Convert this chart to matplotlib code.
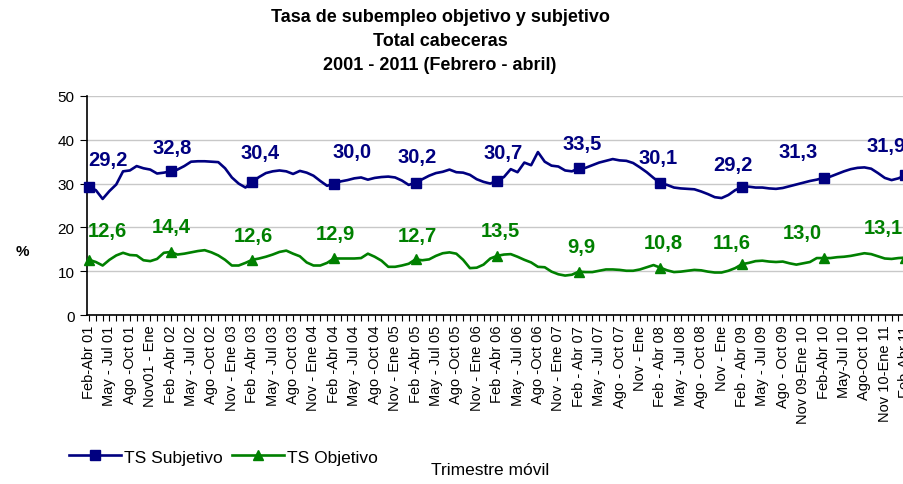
import matplotlib
matplotlib.use("Agg")
import matplotlib.pyplot as plt
import numpy as np

plt.rcParams["font.family"] = ["Liberation Sans", "DejaVu Sans"]

# rolling quarter labels (one every 3 months)
tick_labels = [
    "Feb-Abr 01", "May - Jul 01", "Ago -Oct 01", "Nov01 - Ene",
    "Feb -Abr 02", "May - Jul 02", "Ago -Oct 02", "Nov - Ene 03",
    "Feb -Abr 03", "May - Jul 03", "Ago -Oct 03", "Nov - Ene 04",
    "Feb -Abr 04", "May - Jul 04", "Ago -Oct 04", "Nov - Ene 05",
    "Feb -Abr 05", "May - Jul 05", "Ago -Oct 05", "Nov - Ene 06",
    "Feb -Abr 06", "May - Jul 06", "Ago -Oct 06", "Nov - Ene 07",
    "Feb - Abr 07", "May - Jul 07", "Ago - Oct 07", "Nov - Ene",
    "Feb - Abr 08", "May - Jul 08", "Ago - Oct 08", "Nov - Ene",
    "Feb - Abr 09", "May - Jul 09", "Ago - Oct 09", "Nov 09-Ene 10",
    "Feb-Abr 10", "May-Jul 10", "Ago-Oct 10", "Nov 10-Ene 11",
    "Feb-Abr 11",
]

# TS Subjetivo, monthly rolling quarters Feb-Abr 01 .. Feb-Abr 11
subjetivo = [
    29.2, 28.5, 26.5, 28.3, 29.8, 32.8, 33.0, 34.0, 33.5, 33.2,
    32.3, 32.5, 32.8, 33.2, 34.0, 35.0, 35.1, 35.1, 35.0, 34.9,
    33.5, 31.4, 30.0, 29.1, 30.4, 31.5, 32.4, 32.8, 33.0, 32.8,
    32.2, 32.9, 32.5, 31.8, 30.6, 29.5, 30.0, 30.5, 30.8, 31.2,
    31.4, 30.9, 31.3, 31.5, 31.6, 31.4, 30.7, 29.7, 30.2, 31.0,
    31.8, 32.4, 32.7, 33.2, 32.6, 32.5, 32.0, 31.0, 30.4, 30.0,
    30.7, 31.5, 33.3, 32.6, 34.8, 34.2, 37.2, 35.0, 34.1, 33.9,
    33.0, 32.8, 33.5, 33.6, 34.2, 34.8, 35.2, 35.6, 35.3, 35.2,
    34.7, 33.7, 32.6, 31.3, 30.1, 29.7, 29.1, 28.9, 28.8, 28.7,
    28.2, 27.6, 26.9, 26.7, 27.4, 28.5, 29.2, 29.3, 29.1, 29.1,
    28.9, 28.8, 29.0, 29.4, 29.8, 30.2, 30.6, 30.9, 31.3, 31.6,
    32.2, 32.8, 33.3, 33.6, 33.7, 33.4, 32.4, 31.3, 30.8, 31.2,
    31.9,
]

# TS Objetivo
objetivo = [
    12.6, 12.1, 11.3, 12.6, 13.6, 14.2, 13.7, 13.6, 12.5, 12.3,
    12.8, 14.2, 14.4, 13.8, 14.0, 14.3, 14.6, 14.8, 14.3, 13.6,
    12.6, 11.3, 11.3, 11.9, 12.6, 12.9, 13.3, 13.8, 14.4, 14.7,
    14.0, 13.4, 12.0, 11.3, 11.3, 11.9, 12.9, 12.9, 12.9, 12.9,
    13.0, 14.0, 13.3, 12.4, 11.0, 11.0, 11.3, 11.7, 12.7, 12.5,
    12.7, 13.5, 14.1, 14.3, 14.0, 12.6, 10.7, 10.8, 11.5, 12.9,
    13.5, 13.8, 13.9, 13.3, 12.6, 12.0, 11.0, 10.9, 9.9, 9.3,
    9.0, 9.2, 9.9, 9.8, 9.8, 10.1, 10.4, 10.4, 10.3, 10.1,
    10.1, 10.4, 10.9, 11.4, 10.8, 10.2, 9.8, 9.9, 10.1, 10.3,
    10.2, 9.9, 9.7, 9.7, 10.1, 10.7, 11.6, 11.9, 12.3, 12.4,
    12.2, 12.1, 12.2, 11.8, 11.5, 11.8, 12.1, 13.0, 13.0, 13.0,
    13.2, 13.3, 13.5, 13.8, 14.1, 13.9, 13.4, 12.9, 12.8, 13.0,
    13.1,
]

# hand-placed label offsets (pixels) relative to each yearly marker
subj_dx = [19, 2, 8, 18, 2, 6, 3, -2, -9, -25, -19]
subj_dy = [28, 24, 29, 32, 26, 28, 25, 26, 23, 26, 30]
obj_dx = [18, 1, 1, 1, 2, 3, 3, 3, -10, -21, -22]
obj_dy = [29, 25, 24, 25, 24, 25, 25, 25, 22, 26, 30]

BLUE = "#000080"
GREEN = "#008000"
PX = 0.72  # points per pixel at dpi 100

x = np.arange(len(subjetivo))
marks = x[::12]

fig = plt.figure(figsize=(9.04, 4.85), dpi=100)
# plot area runs past the right edge of the picture, as in the original
ax = fig.add_axes([87 / 904, 169 / 485, 825 / 904, 219 / 485])

ax.plot(x, subjetivo, color=BLUE, lw=1.9, marker="s", ms=6.5,
        markevery=12, label="TS Subjetivo", clip_on=False, zorder=3)
ax.plot(x, objetivo, color=GREEN, lw=1.9, marker="^", ms=7.5,
        markevery=12, label="TS Objetivo", clip_on=False, zorder=3)

for k, i in enumerate(marks):
    ax.annotate(f"{subjetivo[i]:.1f}".replace(".", ","), (i, subjetivo[i]),
                xytext=(subj_dx[k] * PX, subj_dy[k] * PX), textcoords="offset points",
                ha="center", va="center", fontsize=14.5, fontweight="bold",
                color=BLUE, annotation_clip=False)
    ax.annotate(f"{objetivo[i]:.1f}".replace(".", ","), (i, objetivo[i]),
                xytext=(obj_dx[k] * PX, obj_dy[k] * PX), textcoords="offset points",
                ha="center", va="center", fontsize=14.5, fontweight="bold",
                color=GREEN, annotation_clip=False)

ax.set_xlim(-0.3, 121.0)
ax.set_ylim(0, 50)
ax.set_yticks(range(0, 51, 10))
ax.yaxis.grid(True, color="#c8c8c8", lw=1)
ax.set_axisbelow(True)
for s in ("top", "right"):
    ax.spines[s].set_visible(False)
ax.spines["left"].set_linewidth(1.2)
ax.spines["bottom"].set_linewidth(1.2)

ax.set_xticks(x[::3])
ax.set_xticklabels(tick_labels, rotation=90, ha="center", va="top", fontsize=10.5)
ax.set_xticks(x, minor=True)
ax.tick_params(axis="x", which="both", length=4, width=0.8, pad=3)
ax.tick_params(axis="y", length=5, width=0.8, labelsize=11, pad=4)

ax.text(-0.078, 0.29, "%", transform=ax.transAxes, fontsize=11, fontweight="bold",
        ha="center", va="center")

fig.text(440 / 904, 1 - 17 / 485, "Tasa de subempleo objetivo y subjetivo",
         ha="center", va="center", fontsize=13, fontweight="bold")
fig.text(440 / 904, 1 - 41 / 485, "Total cabeceras",
         ha="center", va="center", fontsize=13, fontweight="bold")
fig.text(440 / 904, 1 - 66 / 485, "2001 - 2011 (Febrero - abril)",
         ha="center", va="center", fontsize=13, fontweight="bold")

fig.legend(loc="center left", bbox_to_anchor=(62 / 904, 1 - 458 / 485), ncol=2,
           frameon=False, fontsize=12.5, handlelength=3.0, handletextpad=0.2,
           columnspacing=0.5, borderaxespad=0)
fig.text(490 / 904, 1 - 471 / 485, "Trimestre móvil", ha="center", va="center",
         fontsize=12.5)

fig.savefig("out.png", dpi=100)
